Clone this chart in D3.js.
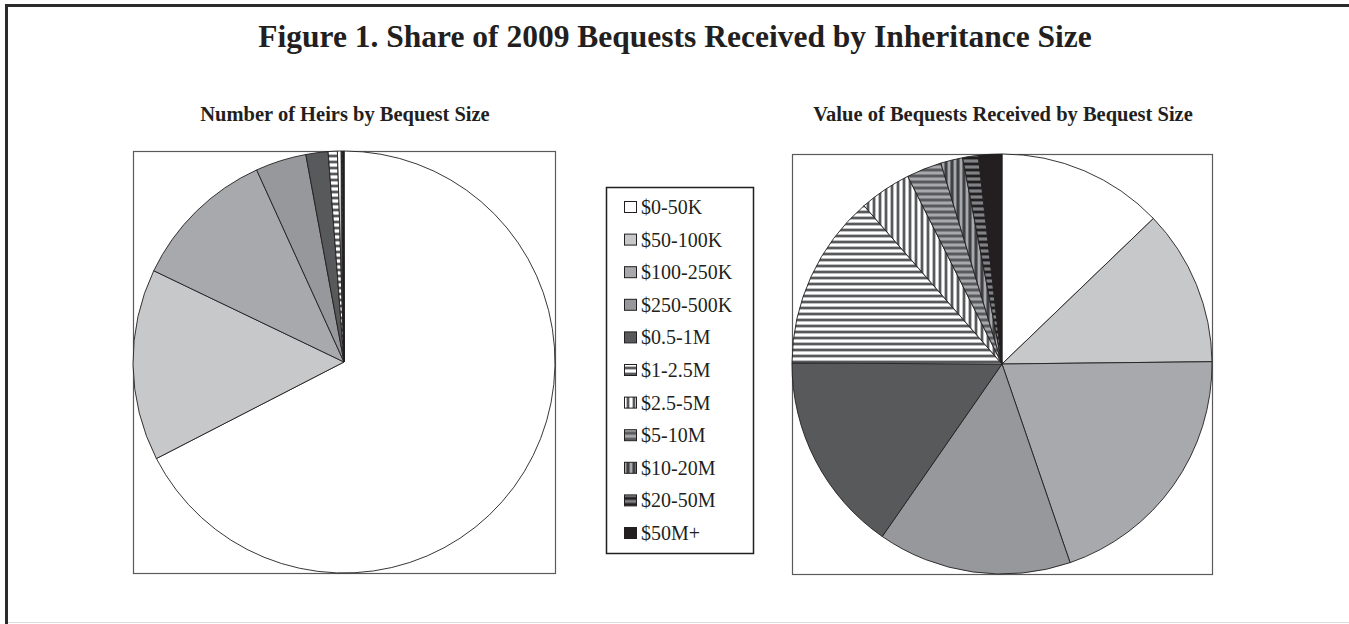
<!DOCTYPE html>
<html>
<head>
<meta charset="utf-8">
<script src="https://cdn.jsdelivr.net/npm/d3@7"></script>
<style>
  body { margin: 0; background: #fff; }
  svg { display: block; }
  text { font-family: "Liberation Serif", "Times New Roman", serif; fill: #231f20; }
</style>
</head>
<body>
<div id="grafica"></div>
<script>
// datos (porcentajes)
const categorias = ["$0-50K", "$50-100K", "$100-250K", "$250-500K", "$0.5-1M", "$1-2.5M", "$2.5-5M", "$5-10M", "$10-20M", "$20-50M", "$50M+"]
const herederos = [67.5, 14.7, 11.1, 3.9, 1.7, 0.7, 0.3, 0.1, 0.05, 0.03, 0.02]
const valores = [12.8, 12.0, 19.9, 14.9, 15.4, 13.5, 4.0, 2.7, 1.7, 1.2, 1.8]
const titulo = "Figure 1. Share of 2009 Bequests Received by Inheritance Size"
const subtitulos = ["Number of Heirs by Bequest Size", "Value of Bequests Received by Bequest Size"]

const anchoTotal = 1349
const altoTotal = 624

// rellenos: grises solidos y rayas
const rayas = [
  { id: "h1", dir: "h", bandas: [["#ffffff", 2], ["#bcbec0", 1], ["#58595b", 2], ["#bcbec0", 1]] },
  { id: "v1", dir: "v", bandas: [["#ffffff", 2], ["#bcbec0", 1], ["#58595b", 2], ["#bcbec0", 1]] },
  { id: "h2", dir: "h", bandas: [["#a7a9ac", 2], ["#808285", 1], ["#58595b", 2], ["#808285", 1]] },
  { id: "v2", dir: "v", bandas: [["#a7a9ac", 2], ["#6d6e71", 1], ["#414042", 2], ["#6d6e71", 1]] },
  { id: "h3", dir: "h", bandas: [["#808285", 2], ["#58595b", 1], ["#231f20", 2], ["#58595b", 1]] },
]
const rellenos = ["#ffffff", "#c7c8ca", "#a7a9ac", "#97989b", "#58595b", "url(#h1)", "url(#v1)", "url(#h2)", "url(#v2)", "url(#h3)", "#231f20"]
const color = d3.scaleOrdinal().domain(categorias).range(rellenos)

const svg = d3
  .select("#grafica")
  .append("svg")
  .attr("width", anchoTotal)
  .attr("height", altoTotal)

const defs = svg.append("defs")
rayas.forEach((r) => {
  const periodo = d3.sum(r.bandas, (b) => b[1])
  const p = defs
    .append("pattern")
    .attr("id", r.id)
    .attr("patternUnits", "userSpaceOnUse")
    .attr("width", periodo)
    .attr("height", periodo)
  let pos = 0
  r.bandas.forEach((b) => {
    p.append("rect")
      .attr("x", r.dir == "v" ? pos : 0)
      .attr("y", r.dir == "h" ? pos : 0)
      .attr("width", r.dir == "v" ? b[1] : periodo)
      .attr("height", r.dir == "h" ? b[1] : periodo)
      .attr("fill", b[0])
    pos += b[1]
  })
})

// marco exterior
svg.append("path")
  .attr("d", `M6.5,${altoTotal} V5.5 H${anchoTotal}`)
  .attr("fill", "none")
  .attr("stroke", "#2b2b2b")
  .attr("stroke-width", 3)
svg.append("line")
  .attr("x1", 8).attr("x2", anchoTotal)
  .attr("y1", 622.5).attr("y2", 622.5)
  .attr("stroke", "#dcdcdc")

svg.append("text")
  .attr("x", 675)
  .attr("y", 47)
  .attr("text-anchor", "middle")
  .attr("font-size", 31.5)
  .attr("font-weight", "bold")
  .text(titulo)

const pie = d3.pie().sort(null).value((d) => d)

const tortas = [
  { datos: herederos, cx: 344, cy: 362, r: 211 },
  { datos: valores, cx: 1002, cy: 364, r: 210 },
]

tortas.forEach((t, i) => {
  svg.append("text")
    .attr("x", t.cx + 1)
    .attr("y", 121)
    .attr("text-anchor", "middle")
    .attr("font-size", 20.5)
    .attr("font-weight", "bold")
    .text(subtitulos[i])

  svg.append("rect")
    .attr("x", t.cx - t.r + 0.5)
    .attr("y", t.cy - t.r + 0.5)
    .attr("width", 2 * t.r)
    .attr("height", 2 * t.r)
    .attr("fill", "white")
    .attr("stroke", "#5a5a5a")
    .attr("stroke-width", 1.2)

  const arco = d3.arc().innerRadius(0).outerRadius(t.r)
  const g = svg.append("g").attr("transform", `translate(${t.cx}, ${t.cy})`)
  g.selectAll("path")
    .data(pie(t.datos))
    .enter()
    .append("path")
    .attr("d", arco)
    .attr("fill", (d, j) => color(categorias[j]))
    .attr("stroke", "#231f20")
    .attr("stroke-width", 0.9)
    .attr("stroke-linejoin", "round")
})

// leyenda
const leyenda = svg.append("g")
leyenda.append("rect")
  .attr("x", 606.5)
  .attr("y", 187.5)
  .attr("width", 147)
  .attr("height", 366)
  .attr("fill", "white")
  .attr("stroke", "#231f20")
  .attr("stroke-width", 1.5)

const yLey = d3.scalePoint().domain(categorias).range([207, 533])
const item = leyenda
  .selectAll("g.item")
  .data(categorias)
  .enter()
  .append("g")
  .attr("class", "item")
  .attr("transform", (d) => `translate(0, ${yLey(d)})`)
item.append("rect")
  .attr("x", 624.5)
  .attr("y", -5.5)
  .attr("width", 12)
  .attr("height", 11)
  .attr("fill", (d) => color(d))
  .attr("stroke", "#231f20")
  .attr("stroke-width", 1)
item.append("text")
  .attr("x", 641)
  .attr("y", 7)
  .attr("font-size", 20)
  .text((d) => d)
</script>
</body>
</html>
